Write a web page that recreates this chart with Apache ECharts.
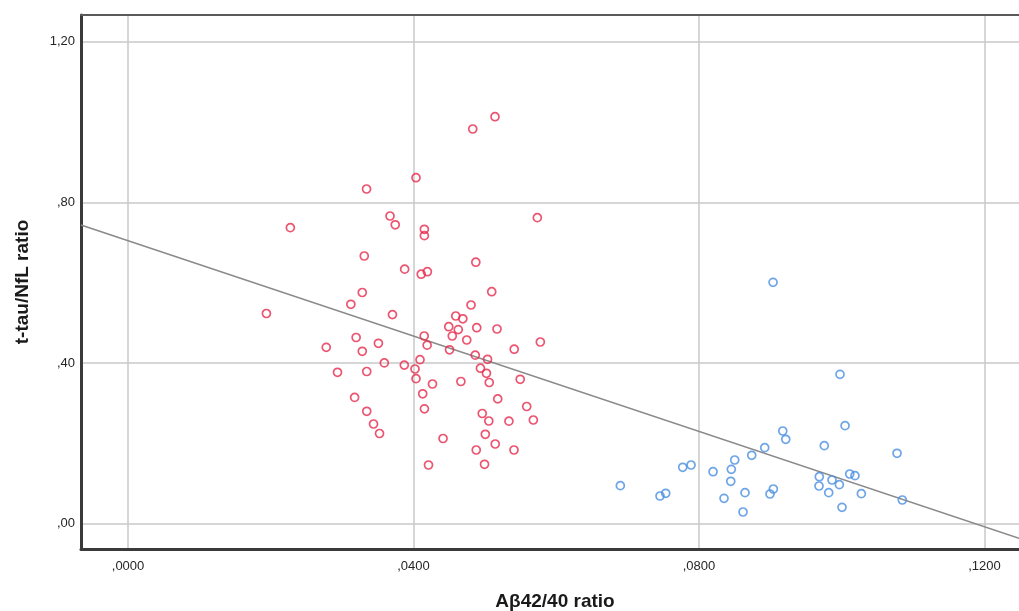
<!DOCTYPE html>
<html>
<head>
<meta charset="utf-8">
<script src="https://cdn.jsdelivr.net/npm/echarts@6/dist/echarts.min.js"></script>
<style>
html,body{margin:0;padding:0;background:#fff;}
#chart{width:1019px;height:611px;}
</style>
</head>
<body>
<div id="chart"></div>
<script>
// Tick values and labels
const xTickValues = [0, 0.04, 0.08, 0.12];
const xTickLabels = [',0000', ',0400', ',0800', ',1200'];
const yTickValues = [0, 0.4, 0.8, 1.2];
const yTickLabels = [',00', ',40', ',80', '1,20'];

// Group 1 (red): [Aβ42/40 ratio, t-tau/NfL ratio]
const redPoints = [
  [0.05142,1.0132],[0.04830,0.9826],[0.04035,0.8613],[0.03342,0.8332],[0.03671,0.7660],
  [0.03744,0.7441],[0.04152,0.7329],[0.04152,0.7170],[0.05735,0.7618],[0.02274,0.7369],
  [0.03310,0.6664],[0.04873,0.6510],[0.03876,0.6336],[0.04108,0.6211],[0.04194,0.6273],
  [0.05096,0.5775],[0.03282,0.5756],[0.03122,0.5462],[0.04806,0.5444],[0.01939,0.5233],
  [0.03705,0.5205],[0.04592,0.5171],[0.04691,0.5101],[0.04494,0.4904],[0.04627,0.4832],
  [0.04543,0.4673],[0.04886,0.4879],[0.05170,0.4847],[0.05777,0.4523],[0.03196,0.4635],
  [0.03508,0.4491],[0.02777,0.4391],[0.03282,0.4292],[0.04150,0.4673],[0.04191,0.4444],
  [0.04746,0.4573],[0.04505,0.4329],[0.04865,0.4195],[0.05037,0.4093],[0.05411,0.4344],
  [0.03591,0.4003],[0.03871,0.3948],[0.04091,0.4083],[0.04021,0.3851],[0.04035,0.3610],
  [0.02935,0.3769],[0.03345,0.3789],[0.04938,0.3871],[0.05022,0.3744],[0.05061,0.3515],
  [0.05495,0.3595],[0.04664,0.3540],[0.04266,0.3478],[0.04129,0.3234],[0.04153,0.2860],
  [0.03175,0.3144],[0.03345,0.2798],[0.03440,0.2482],[0.03524,0.2245],[0.05180,0.3107],
  [0.05586,0.2918],[0.04963,0.2743],[0.05055,0.2557],[0.05337,0.2552],[0.05679,0.2582],
  [0.05006,0.2226],[0.05145,0.1984],[0.04414,0.2121],[0.04879,0.1835],[0.05408,0.1835],
  [0.04210,0.1461],[0.04995,0.1479]
];

// Group 2 (blue)
const bluePoints = [
  [0.09038,0.6009],[0.09976,0.3719],[0.10047,0.2440],[0.09174,0.2308],[0.09216,0.2101],
  [0.09756,0.1942],[0.08921,0.1892],[0.08739,0.1703],[0.10775,0.1753],[0.08501,0.1586],
  [0.08453,0.1354],[0.07889,0.1461],[0.07772,0.1404],[0.08197,0.1294],[0.08445,0.1056],
  [0.06898,0.0946],[0.07454,0.0690],[0.07534,0.0757],[0.08351,0.0632],[0.08645,0.0772],
  [0.08617,0.0291],[0.08995,0.0739],[0.09042,0.0864],[0.09686,0.1170],[0.09682,0.0939],
  [0.09864,0.1088],[0.09967,0.0971],[0.09818,0.0772],[0.10112,0.1237],[0.10186,0.1195],
  [0.10275,0.0747],[0.10004,0.0408],[0.10849,0.0590]
];

// Fit line endpoints
const fitLine = [[-0.00659, 0.7436], [0.12484, -0.0366]];

function labelFor(values, labels, v) {
  for (let i = 0; i < values.length; i++) {
    if (Math.abs(values[i] - v) < 1e-9) return labels[i];
  }
  return '';
}

const X_MIN = -0.00659, X_MAX = 0.12484;
const chart = echarts.init(document.getElementById('chart'), null, {renderer: 'canvas'});
const font = '"Liberation Sans", Arial, sans-serif';
chart.setOption({
  animation: false,
  backgroundColor: '#ffffff',
  grid: {
    left: 81, top: 15, right: 0, bottom: 62,
    outerBoundsMode: 'none',
    containLabel: false,
    show: false
  },
  xAxis: [{
    type: 'value',
    min: X_MIN, max: X_MAX,
    name: 'Aβ42/40 ratio',
    nameLocation: 'middle',
    nameGap: 43,
    nameTextStyle: {fontFamily: font, fontWeight: 'bold', fontSize: 19, color: '#1a1a1a', padding: [0, 0, 0, 10]},
    axisLine: {show: true, onZero: false, lineStyle: {color: '#3a3a3a', width: 3}},
    axisTick: {show: false, customValues: xTickValues},
    axisLabel: {
      customValues: xTickValues,
      margin: 11,
      fontFamily: font, fontSize: 13, color: '#262626',
      formatter: v => labelFor(xTickValues, xTickLabels, v)
    },
    splitLine: {show: true, lineStyle: {color: '#c8c8c8', width: 1.5}}
  }, {
    type: 'value',
    position: 'top',
    min: X_MIN, max: X_MAX,
    axisLine: {show: true, onZero: false, lineStyle: {color: '#5a5a5a', width: 2}},
    axisTick: {show: false},
    axisLabel: {show: false},
    splitLine: {show: false}
  }],
  yAxis: {
    type: 'value',
    min: -0.0630, max: 1.2664,
    name: 't-tau/NfL ratio',
    nameLocation: 'middle',
    nameGap: 49,
    nameTextStyle: {fontFamily: font, fontWeight: 'bold', fontSize: 19, color: '#1a1a1a'},
    axisLine: {show: true, onZero: false, lineStyle: {color: '#3a3a3a', width: 3}},
    axisTick: {show: false, customValues: yTickValues},
    axisLabel: {
      customValues: yTickValues,
      margin: 6,
      fontFamily: font, fontSize: 13, color: '#262626',
      formatter: v => labelFor(yTickValues, yTickLabels, v)
    },
    splitLine: {show: true, lineStyle: {color: '#c8c8c8', width: 1.5}}
  },
  series: [
    {
      type: 'line',
      data: fitLine,
      showSymbol: false,
      symbol: 'none',
      lineStyle: {color: '#8a8a8a', width: 1.5},
      z: 2,
      silent: true
    },
    {
      type: 'scatter',
      data: redPoints,
      symbol: 'circle',
      symbolSize: 8,
      itemStyle: {color: 'rgba(0,0,0,0)', borderColor: '#e62b4c', borderWidth: 1.7},
      z: 3
    },
    {
      type: 'scatter',
      data: bluePoints,
      symbol: 'circle',
      symbolSize: 8,
      itemStyle: {color: 'rgba(0,0,0,0)', borderColor: '#4a8ee0', borderWidth: 1.7},
      z: 3
    }
  ]
});
</script>
</body>
</html>
